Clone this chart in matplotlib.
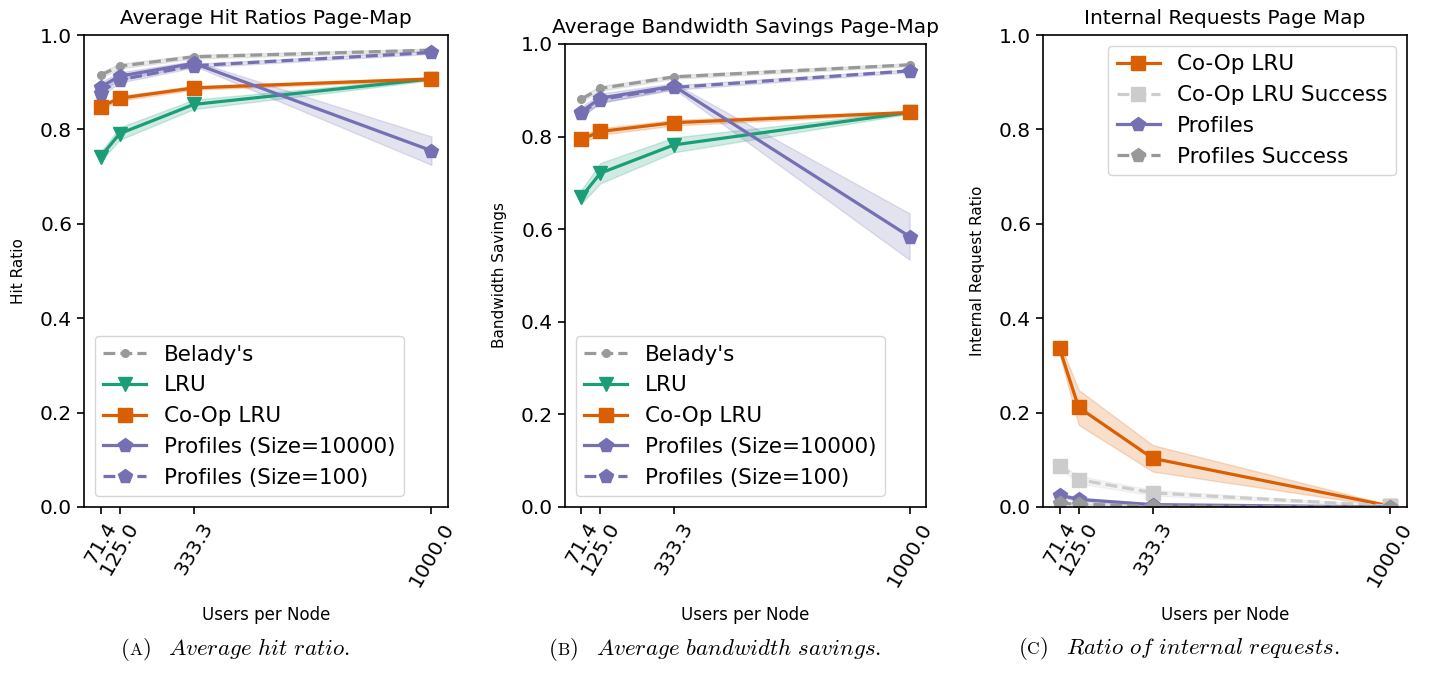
import matplotlib
matplotlib.use("Agg")
import matplotlib.pyplot as plt
from matplotlib.offsetbox import TextArea, HPacker, AnnotationBbox

plt.rcParams['mathtext.fontset'] = 'cm'
plt.rcParams['axes.linewidth'] = 1.2

# users per node (x axis shared by all panels)
users = [71.4, 125.0, 333.3, 1000.0]
user_labels = ["71.4", "125.0", "333.3", "1000.0"]

# (A) hit ratio, mean and band half-width
hit_belady = [0.915, 0.934, 0.954, 0.968]
hit_belady_err = [0.006, 0.005, 0.004, 0.003]
hit_lru = [0.742, 0.791, 0.853, 0.907]
hit_lru_err = [0.010, 0.013, 0.010, 0.003]
hit_coop = [0.848, 0.866, 0.888, 0.907]
hit_coop_err = [0.005, 0.005, 0.004, 0.003]
hit_prof = [0.890, 0.913, 0.940, 0.755]
hit_prof_err = [0.010, 0.008, 0.005, 0.030]
hit_prof100 = [0.878, 0.905, 0.935, 0.963]
hit_prof100_err = [0.008, 0.006, 0.004, 0.003]

# (B) bandwidth savings
bw_belady = [0.881, 0.904, 0.929, 0.955]
bw_belady_err = [0.006, 0.005, 0.004, 0.003]
bw_lru = [0.670, 0.721, 0.782, 0.852]
bw_lru_err = [0.015, 0.022, 0.016, 0.003]
bw_coop = [0.794, 0.811, 0.830, 0.852]
bw_coop_err = [0.008, 0.007, 0.006, 0.003]
bw_prof = [0.854, 0.883, 0.909, 0.584]
bw_prof_err = [0.010, 0.010, 0.006, 0.050]
bw_prof100 = [0.850, 0.880, 0.906, 0.942]
bw_prof100_err = [0.008, 0.007, 0.005, 0.003]

# (C) internal request ratio
ir_coop = [0.336, 0.211, 0.103, 0.002]
ir_coop_err = [0.012, 0.037, 0.028, 0.002]
ir_coop_succ = [0.087, 0.058, 0.030, 0.002]
ir_coop_succ_err = [0.005, 0.008, 0.006, 0.001]
ir_prof = [0.025, 0.016, 0.005, 0.000]
ir_prof_err = [0.004, 0.004, 0.002, 0.000]
ir_prof_succ = [0.008, 0.006, 0.002, 0.000]
ir_prof_succ_err = [0.002, 0.002, 0.001, 0.000]

GREEN = '#1b9e77'
ORANGE = '#d95f02'
PURPLE = '#7570b3'
GRAY = '#999999'
LIGHT = '#cccccc'


def draw(ax, y, err, color, marker, label, ls='-', ms=10):
    lo = [a - b for a, b in zip(y, err)]
    hi = [a + b for a, b in zip(y, err)]
    ax.fill_between(users, lo, hi, color=color, alpha=0.2)
    ax.plot(users, y, ls=ls, color=color, marker=marker, ms=ms, lw=2.3, label=label)


def setup(ax, title, ylabel):
    ax.set_ylim(0, 1.0)
    ax.set_yticks([0.0, 0.2, 0.4, 0.6, 0.8, 1.0])
    ax.set_xticks(users)
    ax.set_xticklabels(user_labels, rotation=60)
    ax.tick_params(labelsize=14.5, width=1.2, length=5)
    ax.set_title(title, fontsize=14.5, pad=8)
    ax.set_ylabel(ylabel, fontsize=11, labelpad=10)
    ax.set_xlabel("Users per Node", fontsize=12, labelpad=12)


fig = plt.figure(figsize=(14.29, 6.88), dpi=100)
ax_a = fig.add_axes([0.0588, 0.2631, 0.2547, 0.686])
ax_b = fig.add_axes([0.3954, 0.2631, 0.2526, 0.673])
ax_c = fig.add_axes([0.7299, 0.2631, 0.2545, 0.686])

draw(ax_a, hit_belady, hit_belady_err, GRAY, 'o', "Belady's", ls='--', ms=5.5)
draw(ax_a, hit_lru, hit_lru_err, GREEN, 'v', "LRU")
draw(ax_a, hit_coop, hit_coop_err, ORANGE, 's', "Co-Op LRU")
draw(ax_a, hit_prof, hit_prof_err, PURPLE, 'p', "Profiles (Size=10000)")
draw(ax_a, hit_prof100, hit_prof100_err, PURPLE, 'p', "Profiles (Size=100)", ls='--')
setup(ax_a, "Average Hit Ratios Page-Map", "Hit Ratio")
ax_a.legend(loc='lower left', fontsize=15.5)

draw(ax_b, bw_belady, bw_belady_err, GRAY, 'o', "Belady's", ls='--', ms=5.5)
draw(ax_b, bw_lru, bw_lru_err, GREEN, 'v', "LRU")
draw(ax_b, bw_coop, bw_coop_err, ORANGE, 's', "Co-Op LRU")
draw(ax_b, bw_prof, bw_prof_err, PURPLE, 'p', "Profiles (Size=10000)")
draw(ax_b, bw_prof100, bw_prof100_err, PURPLE, 'p', "Profiles (Size=100)", ls='--')
setup(ax_b, "Average Bandwidth Savings Page-Map", "Bandwidth Savings")
ax_b.legend(loc='lower left', fontsize=15.5)

draw(ax_c, ir_coop, ir_coop_err, ORANGE, 's', "Co-Op LRU")
draw(ax_c, ir_coop_succ, ir_coop_succ_err, LIGHT, 's', "Co-Op LRU Success", ls='--')
draw(ax_c, ir_prof, ir_prof_err, PURPLE, 'p', "Profiles")
draw(ax_c, ir_prof_succ, ir_prof_succ_err, GRAY, 'p', "Profiles Success", ls='--')
setup(ax_c, "Internal Requests Page Map", "Internal Request Ratio")
ax_c.legend(loc='upper right', fontsize=15.5)


def caption(xc, letter, text):
    rm = dict(fontfamily='cmr10', fontsize=16.5)
    tag = HPacker(children=[TextArea("(", textprops=rm),
                            TextArea(letter, textprops=dict(fontfamily='cmr10', fontsize=12.5)),
                            TextArea(")", textprops=rm)],
                  align='baseline', pad=0, sep=0)
    body = TextArea(r'$\mathit{' + text.replace(' ', r'\ ') + '}$',
                    textprops=dict(fontsize=16.5))
    box = HPacker(children=[tag, body], align='baseline', pad=0, sep=12)
    ab = AnnotationBbox(box, (xc, 0.058), xycoords='figure fraction',
                        frameon=False, box_alignment=(0.5, 0.5))
    fig.add_artist(ab)


caption(0.1645, "A", "Average hit ratio.")
caption(0.5003, "B", "Average bandwidth savings.")
caption(0.825, "C", "Ratio of internal requests.")

fig.savefig("out.png", dpi=100)
